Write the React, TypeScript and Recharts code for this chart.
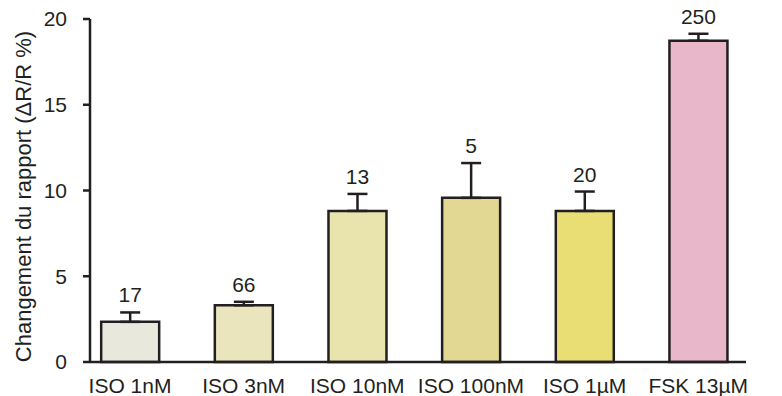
import React from "react";
import { ComposedChart, Bar, XAxis, YAxis, ErrorBar, Cell, LabelList } from "recharts";

const categories = ["ISO 1nM", "ISO 3nM", "ISO 10nM", "ISO 100nM", "ISO 1µM", "FSK 13µM"];
const values = [2.34, 3.31, 8.81, 9.57, 8.81, 18.73];
const errors = [0.55, 0.2, 0.99, 2.03, 1.13, 0.41];
const nLabels = ["17", "66", "13", "5", "20", "250"];
const yTicks = [0, 5, 10, 15, 20];

const COLORS = ["#e8e8dc", "#eae5bd", "#e9e4ae", "#e2d894", "#e8de74", "#e9b7ca"];
const INK = "#231f20";
const FONT = "'Liberation Sans', Arial, Helvetica, sans-serif";

const data = categories.map((c, i) => ({
  idx: i,
  name: c,
  value: values[i],
  err: [0, errors[i]],
  n: nLabels[i],
}));

const NLabel = (props: any) => {
  const { x, y, width, height, value, index } = props;
  const d = data[index];
  const pxPerUnit = height / d.value;
  const errTop = y - errors[index] * pxPerUnit;
  return (
    <text
      x={x + width / 2}
      y={errTop - 10}
      textAnchor="middle"
      fontSize={21}
      fontFamily={FONT}
      fill={INK}
    >
      {value}
    </text>
  );
};

const YTitle = (props: any) => {
  const vb = props.viewBox;
  const cy = vb.y + vb.height / 2 + 6;
  const cx = 23;
  return (
    <text
      x={cx}
      y={cy}
      transform={`rotate(-90, ${cx}, ${cy})`}
      textAnchor="middle"
      dominantBaseline="central"
      fontSize={22}
      fontFamily={FONT}
      fill={INK}
    >
      Changement du rapport (ΔR/R %)
    </text>
  );
};

export default function App() {
  return (
    <div style={{ position: "absolute", left: 0, top: 0, background: "#fff" }}>
      <ComposedChart
        width={782}
        height={396}
        data={data}
        margin={{ top: 19, right: 36, bottom: 4, left: 0 }}
      >
        <XAxis
          type="number"
          dataKey="idx"
          height={30}
          domain={[-0.352, 5.42]}
          ticks={[0, 1, 2, 3, 4, 5]}
          interval={0}
          tickFormatter={(v: number) => categories[v]}
          tickLine={false}
          tickSize={0}
          tickMargin={16}
          axisLine={{ stroke: INK, strokeWidth: 2.5 }}
          tick={{ fontSize: 21, fontFamily: FONT, fill: INK }}
        />
        <YAxis
          type="number"
          domain={[0, 20]}
          ticks={yTicks}
          interval={0}
          width={90}
          tickSize={7}
          tickMargin={16}
          axisLine={{ stroke: INK, strokeWidth: 2.5 }}
          tickLine={{ stroke: INK, strokeWidth: 2.5 }}
          tick={{ fontSize: 21, fontFamily: FONT, fill: INK }}
          label={<YTitle />}
        />
        <Bar
          dataKey="value"
          barSize={58}
          stroke={INK}
          strokeWidth={2.5}
          isAnimationActive={false}
        >
          {data.map((d, i) => (
            <Cell key={d.name} fill={COLORS[i]} />
          ))}
          <ErrorBar dataKey="err" direction="y" width={10} stroke={INK} strokeWidth={2.5} />
          <LabelList dataKey="n" content={<NLabel />} />
        </Bar>
      </ComposedChart>
    </div>
  );
}
